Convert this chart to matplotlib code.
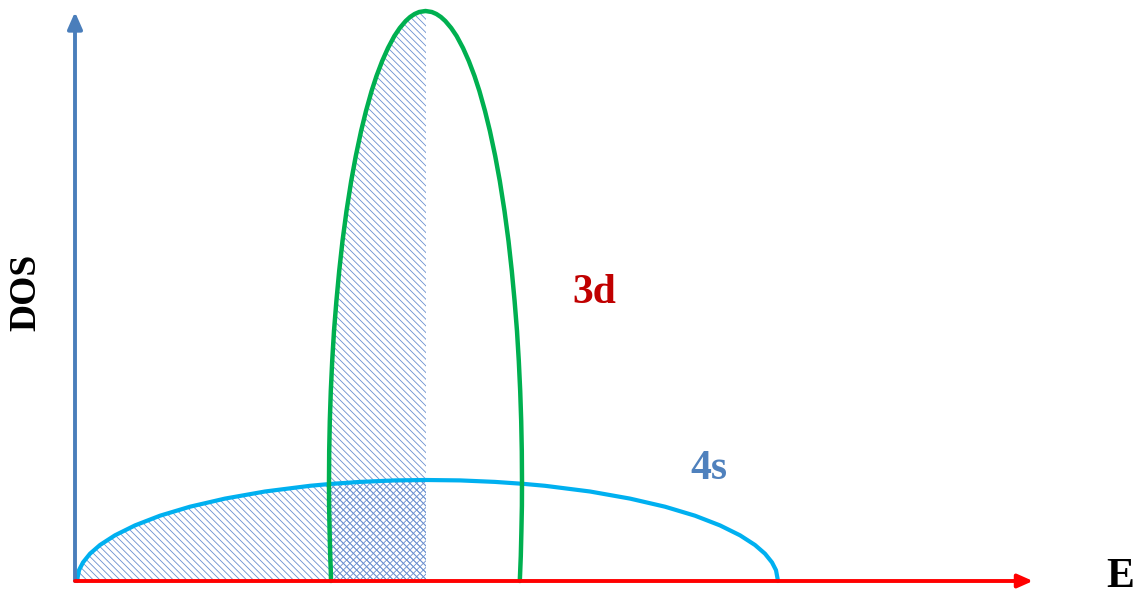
import numpy as np
import matplotlib
matplotlib.use("Agg")
import matplotlib.pyplot as plt

# energy axis in arbitrary units, DOS above the baseline
e_fermi = 426

# 4s band (broad, low)
s4_x = np.array([77, 79, 83, 90, 100, 115, 135, 160, 190, 225, 265, 310, 331, 360, 395, 426,
                 460, 495, 524, 545, 590, 630, 665, 695, 720, 740, 755, 765, 772, 776, 778])
s4_y = np.array([0, 10.8, 18.6, 27.3, 36.0, 45.7, 55.6, 65.3, 74.3, 82.4, 89.5, 95.2, 97.1, 99.1, 100.6, 101.0,
                 100.6, 99.1, 97.1, 95.2, 89.5, 82.4, 74.3, 65.3, 55.6, 45.7, 36.0, 27.3, 18.6, 10.8, 0])

# 3d band (narrow, tall): left / right edge at each height
d3_h = np.array([0, 10, 25, 50, 75, 100, 130, 160, 190, 220, 250, 280, 310, 340, 370,
                 400, 425, 450, 470, 490, 505, 520, 533, 545, 553, 560, 564, 567, 569, 570])
d3_left = np.array([331, 330.8, 330.2, 329.6, 329.1, 329.0, 329.2, 329.8, 330.8, 332.2,
                    334.0, 336.4, 339.2, 342.5, 346.5, 351.2, 355.8, 361.1, 366.0, 371.6,
                    376.5, 382.2, 388.0, 394.4, 399.8, 405.7, 410.1, 414.6, 419.2, 425.5])
d3_right = np.array([519.8, 520.2, 520.8, 521.4, 521.9, 522.0, 521.8, 521.2, 520.2, 518.8,
                     517.0, 514.6, 511.8, 508.5, 504.5, 499.8, 495.2, 489.9, 485.0, 479.4,
                     474.5, 468.8, 463.0, 456.6, 451.2, 445.3, 440.9, 436.4, 431.8, 425.5])

hcol = '#6a8fd0'
plt.rcParams['hatch.linewidth'] = 0.6
plt.rcParams['hatch.color'] = hcol

fig = plt.figure(figsize=(11.37, 5.94), dpi=100)
ax = fig.add_axes([0, 0, 1, 1])
ax.set_xlim(0, 1137)
ax.set_ylim(-13, 581)
ax.axis('off')

dense = 5

# occupied states (left of the Fermi level)
ax.fill_between(s4_x, 0, s4_y, where=s4_x <= e_fermi, facecolor='none',
                edgecolor=hcol, linewidth=0, hatch='\\' * dense, zorder=1)
ax.fill_betweenx(d3_h, d3_left, e_fermi, facecolor='none',
                 edgecolor=hcol, linewidth=0, hatch='\\' * dense, zorder=1)
overlap = (s4_x >= d3_left[0]) & (s4_x <= e_fermi)
ax.fill_between(s4_x, 0, s4_y, where=overlap, facecolor='none',
                edgecolor=hcol, linewidth=0, hatch='/' * dense, zorder=1)

# band outlines
ax.plot(s4_x, s4_y, color='#00B0F0', lw=3, zorder=3, solid_capstyle='round')
ax.plot(np.concatenate([d3_left, d3_right[::-1]]), np.concatenate([d3_h, d3_h[::-1]]),
        color='#00B050', lw=3.2, zorder=3, solid_capstyle='round')

# axes arrows
ax.annotate('', xy=(75, 569), xytext=(75, 0),
            arrowprops=dict(arrowstyle='-|>,head_length=0.5,head_width=0.22',
                            mutation_scale=20, color='#4A7EBB', lw=2.8, shrinkA=0, shrinkB=0),
            zorder=4)
ax.annotate('', xy=(1033, 0), xytext=(75, 0),
            arrowprops=dict(arrowstyle='-|>,head_length=0.45,head_width=0.2',
                            mutation_scale=20, color='#FF0000', lw=2.8, shrinkA=0, shrinkB=0),
            zorder=5)

serif = 'Liberation Serif'
ax.text(26, 289, 'DOS', rotation=90, ha='center', va='center', fontsize=27,
        fontweight='bold', family=serif, color='black')
ax.text(1120, 4, 'E', ha='center', va='center', fontsize=30,
        fontweight='bold', family=serif, color='black')
ax.text(594, 288, '3d', ha='center', va='center', fontsize=30,
        fontweight='bold', family=serif, color='#C00000')
ax.text(709, 112, '4s', ha='center', va='center', fontsize=30,
        fontweight='bold', family=serif, color='#4F81BD')

fig.savefig('out.png', dpi=100)
